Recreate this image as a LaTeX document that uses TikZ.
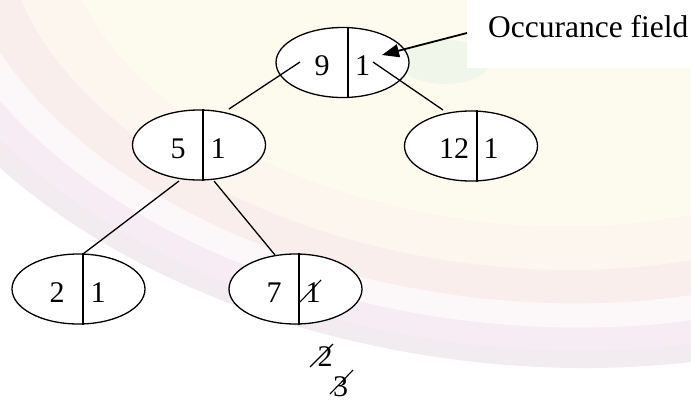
\documentclass[tikz,border=0pt]{standalone}
\usepackage{fontspec}
\setmainfont{Liberation Serif}
\usetikzlibrary{shapes.geometric,arrows.meta,calc}
\definecolor{bgA}{RGB}{242,236,241}
\definecolor{bgB}{RGB}{247,236,243}
\definecolor{bgC}{RGB}{252,248,249}
\definecolor{bgD}{RGB}{249,238,236}
\definecolor{bgE}{RGB}{252,246,238}
\definecolor{bgF}{RGB}{253,251,238}
\definecolor{bgG}{RGB}{240,246,234}
\begin{document}
\begin{tikzpicture}[x=1pt,y=-1pt,
  keynode/.style={ellipse, draw, line width=1.3pt, fill=white, minimum width=133pt, minimum height=70pt, inner sep=0pt},
  digit/.style={font=\fontsize{30}{36}\selectfont, inner sep=0pt, anchor=base},
  edge/.style={line width=1.3pt},
  divider/.style={line width=1.3pt},
  strike/.style={line width=1.1pt},
  bgring/.style={rotate=-8}]
\useasboundingbox (0,0) rectangle (691,405);
% faint background swirl
\begin{scope}
\clip (0,0) rectangle (691,405);
\fill[white] (0,0) rectangle (691,405);
\fill[bgA] (500,-40) ellipse [x radius=640pt, y radius=402pt, bgring];
\fill[bgB] (500,-40) ellipse [x radius=612pt, y radius=385pt, bgring];
\fill[bgC] (500,-40) ellipse [x radius=582pt, y radius=362pt, bgring];
\fill[bgD] (500,-40) ellipse [x radius=548pt, y radius=338pt, bgring];
\fill[bgE] (500,-40) ellipse [x radius=500pt, y radius=305pt, bgring];
\fill[bgF] (500,-40) ellipse [x radius=440pt, y radius=262pt, bgring];
\fill[bgG] (445,62) ellipse [x radius=45pt, y radius=22pt];
\end{scope}
% nodes
\node[keynode] (n9)  at (342.5,62.5) {};
\node[keynode] (n5)  at (199,145) {};
\node[keynode] (n12) at (471,146) {};
\node[keynode] (n2)  at (78.5,289) {};
\node[keynode] (n7)  at (295.5,289) {};
\foreach \n/\s in {n9/5.5,n5/4,n12/6,n2/4.5,n7/3.5}{
  \draw[divider] ([xshift=\s pt]\n.north) -- ([xshift=\s pt]\n.south);
}
% texts
\node[digit] (t9)   at (322,75) {9};
\node[digit] (t9c)  at (362.5,75) {1};
\node[digit] (t5)   at (178,158) {5};
\node[digit] (t5c)  at (218,158) {1};
\node[digit] (t12)  at (454,158.5) {12};
\node[digit] (t12c) at (491,158.5) {1};
\node[digit] (t2)   at (57,302) {2};
\node[digit] (t2c)  at (98,302) {1};
\node[digit] (t7)   at (274,302) {7};
\node[digit] (t7c)  at (313,302) {1};
\node[digit] (x2)   at (325,366) {2};
\node[digit] (x3)   at (340.5,396) {3};
% strike marks
\draw[strike] (310,367) -- (333,344);
\draw[strike] (330,394) -- (353,370);
\draw[strike] (300,302) -- (321,280);
% connectors
\coordinate (e9l) at (300,62);
\coordinate (e5t) at (229,109);
\coordinate (e9r) at (373,62);
\coordinate (e12t) at (443,110);
\coordinate (e5l) at (179,181);
\coordinate (e2t) at (83,254);
\coordinate (e5r) at (214,181);
\coordinate (e7t) at (275,255);
\draw[edge] (e9l) -- (e5t);
\draw[edge] (e9r) -- (e12t);
\draw[edge] (e5l) -- (e2t);
\draw[edge] (e5r) -- (e7t);
% label box
\node[fill=white, inner sep=0pt, minimum width=224pt, minimum height=68pt, anchor=north west] (box) at (467,0) {};
\node[font=\fontsize{31.5}{36}\selectfont, anchor=base west, inner sep=0pt] (lbl) at (488,37) {Occurance field};
\coordinate (tip) at (382,55);
\draw[line width=1.8pt, -{Triangle[length=17pt,width=13pt]}] (box.west |- 0,33) -- (tip);
\end{tikzpicture}
\end{document}
